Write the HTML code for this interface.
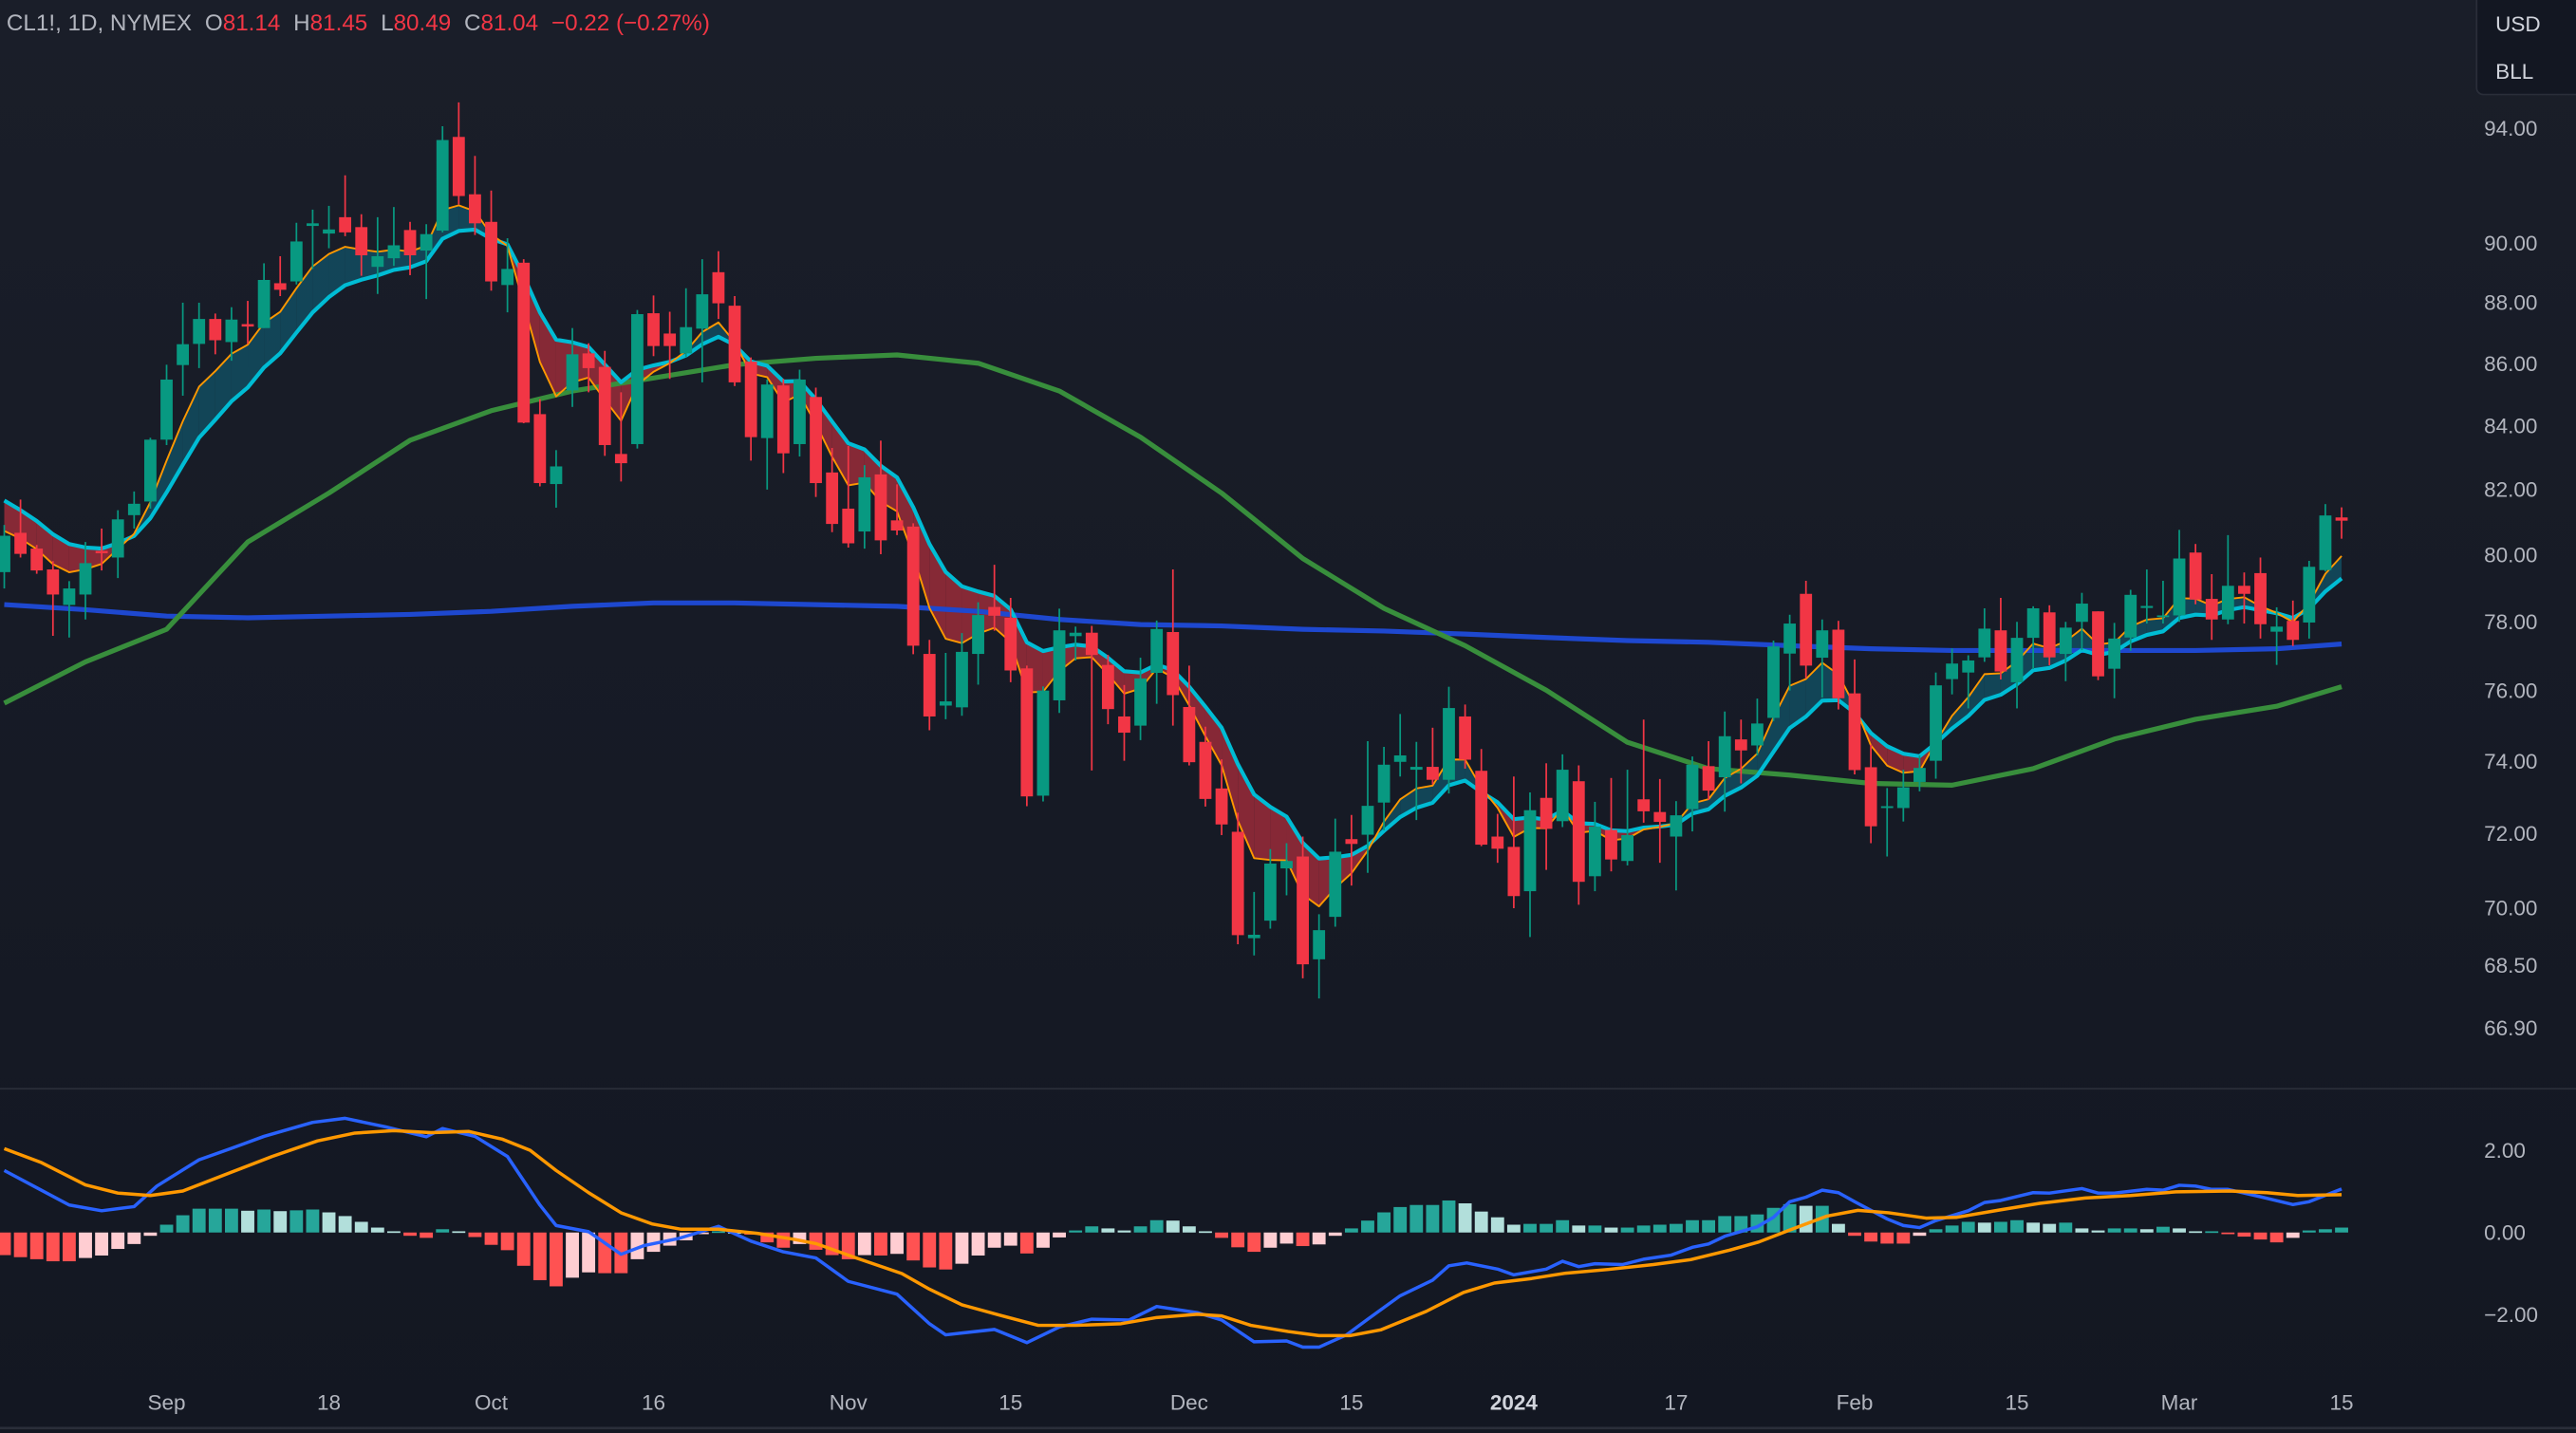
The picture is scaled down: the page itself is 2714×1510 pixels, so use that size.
<!DOCTYPE html>
<html><head><meta charset="utf-8"><title>CL1! 1D chart</title>
<style>
html,body{margin:0;padding:0;background:#161a25;overflow:hidden}
svg{display:block}
text{font-family:"Liberation Sans",sans-serif}
</style></head>
<body>
<svg id="chart" width="2714" height="1510" viewBox="0 0 1568 872" preserveAspectRatio="none" xmlns="http://www.w3.org/2000/svg">
<defs><linearGradient id="bg" x1="0" y1="0" x2="0" y2="1"><stop offset="0" stop-color="#1a1e29"/><stop offset="1" stop-color="#131722"/></linearGradient></defs>
<rect x="0" y="0" width="1568" height="872" fill="url(#bg)"/>
<line x1="0" y1="662.5" x2="1568" y2="662.5" stroke="#2a2e39" stroke-width="1"/>
<line x1="0" y1="869" x2="1568" y2="869" stroke="#2a2e39" stroke-width="1.5"/>
<g id="fills"></g>
<g id="mas"></g>
<g id="candles"></g>
<g id="macd"></g>
<g id="axes"></g>
<g>
<text x="4" y="18.5" font-size="14" fill="#b2b5be"><tspan>CL1!, 1D, NYMEX</tspan><tspan dx="8">O</tspan><tspan fill="#f23645">81.14</tspan><tspan dx="8">H</tspan><tspan fill="#f23645">81.45</tspan><tspan dx="8">L</tspan><tspan fill="#f23645">80.49</tspan><tspan dx="8">C</tspan><tspan fill="#f23645">81.04</tspan><tspan dx="8" fill="#f23645">−0.22 (−0.27%)</tspan></text>
</g>
<g>
<rect x="1507.5" y="-4" width="64" height="61.5" rx="4" fill="#131722" stroke="#2a2e39" stroke-width="1"/>
<text x="1519" y="19" font-size="13" fill="#d1d4dc">USD</text>
<text x="1519" y="48" font-size="13" fill="#d1d4dc">BLL</text>
</g>
</svg>
<script>
const opens=[79.48,80.67,80.19,79.56,78.50,78.81,80.12,79.92,81.21,81.63,83.56,85.95,86.64,87.46,86.70,87.29,87.16,88.65,88.71,90.59,90.33,90.89,90.55,89.20,89.49,90.45,89.75,90.43,93.69,91.68,90.73,88.59,89.34,84.37,82.17,85.13,86.33,85.89,83.11,83.42,87.65,86.98,86.33,87.14,89.02,87.90,86.06,83.61,85.29,83.42,84.92,82.53,81.41,80.71,82.47,81.05,80.86,77.06,75.57,75.52,77.06,78.44,78.12,76.64,73.04,75.72,77.58,77.68,76.74,75.26,75.00,76.51,77.70,75.53,74.54,73.24,72.05,69.21,69.67,71.06,71.38,68.66,69.77,71.85,71.97,72.85,73.98,73.76,73.84,73.48,75.26,73.73,71.92,71.64,70.45,72.98,72.34,73.44,70.85,72.10,71.26,72.94,72.59,71.92,72.67,73.86,73.55,74.61,74.44,75.22,77.07,78.83,76.95,77.77,75.92,73.83,72.70,72.70,73.42,74.01,76.33,76.52,76.96,77.75,76.24,77.53,78.28,77.06,78.00,78.31,76.63,77.54,78.41,78.14,78.19,80.07,78.68,78.07,79.07,79.45,77.71,78.03,77.98,79.54,81.14];
const highs=[80.91,81.69,80.30,79.81,79.21,80.39,80.80,81.36,81.94,83.62,85.96,88.00,88.00,87.64,87.85,88.06,89.32,89.56,90.70,91.15,91.28,92.34,90.99,90.89,91.24,90.73,90.65,94.07,94.92,93.02,91.81,90.17,89.46,84.85,83.23,87.16,86.66,86.41,85.07,87.76,88.24,87.70,88.48,89.46,89.73,88.22,86.20,85.48,85.50,85.80,85.22,83.30,83.36,82.76,83.53,82.16,80.96,77.47,77.09,77.67,78.58,79.70,78.71,76.72,76.12,78.39,77.86,77.88,77.03,76.16,76.95,78.04,79.56,76.72,74.97,74.05,72.57,70.43,71.58,71.74,71.92,69.84,72.41,72.51,74.56,74.40,75.33,74.54,74.94,76.11,75.60,74.34,72.54,73.57,73.13,73.94,74.19,73.88,72.87,73.53,73.76,75.17,73.50,72.89,74.13,74.56,75.40,75.17,75.77,77.45,78.21,79.22,78.07,78.03,76.90,74.46,73.25,73.76,74.16,76.52,77.22,77.02,78.40,78.71,78.00,78.46,78.49,78.00,78.86,78.31,77.97,78.95,79.56,79.22,80.76,80.33,79.42,80.60,79.47,79.92,78.43,78.63,79.82,81.55,81.45];
const lows=[78.99,79.92,79.43,77.59,77.54,78.07,79.53,79.30,80.80,81.41,83.39,84.96,85.85,86.30,86.09,86.64,87.16,88.22,88.61,89.13,89.83,90.24,88.90,88.29,89.23,88.92,88.12,90.37,91.33,90.28,88.40,87.68,84.08,82.10,81.44,84.60,85.07,83.05,82.25,83.28,86.24,85.50,86.21,85.39,87.46,85.27,82.90,82.00,82.51,83.03,81.77,80.69,80.22,80.19,80.02,80.60,77.05,74.87,75.18,75.28,76.17,77.74,76.24,72.75,72.88,75.36,76.87,73.74,75.04,74.01,74.59,75.62,75.00,73.88,72.74,71.96,69.05,68.76,69.46,70.34,68.17,67.65,69.51,70.60,70.94,72.09,73.57,72.37,73.35,73.10,73.79,71.66,71.21,70.00,69.24,71.02,72.18,70.09,70.45,70.98,71.14,72.30,71.21,70.47,72.06,72.92,72.60,73.38,74.16,75.13,76.00,76.35,75.80,75.46,73.63,71.74,71.38,72.33,73.16,73.51,75.89,75.49,76.83,76.32,75.49,76.62,76.73,76.27,77.17,76.30,75.78,77.15,77.95,77.95,78.00,78.52,77.47,77.93,77.95,77.51,76.74,77.29,77.51,79.50,80.49];
const closes=[80.58,80.03,79.53,78.81,78.99,79.75,80.05,81.08,81.56,83.56,85.48,86.63,87.46,86.76,87.44,87.21,88.76,88.43,90.06,90.68,90.47,90.37,89.59,89.56,89.93,89.59,90.31,93.58,91.62,90.68,88.71,89.13,84.10,82.20,82.72,86.30,85.85,83.39,82.82,87.62,86.57,86.57,87.19,88.28,87.98,85.39,83.64,85.32,83.13,85.48,82.20,80.94,80.35,82.38,80.44,80.74,77.30,75.26,75.69,77.12,78.20,78.18,76.58,73.02,76.00,77.75,77.68,77.03,75.47,74.80,76.35,77.79,75.87,73.97,72.95,72.25,69.29,69.30,71.19,71.26,68.53,69.42,71.51,71.72,72.76,73.90,74.16,73.84,73.48,75.50,74.04,71.70,71.59,70.32,72.64,72.13,73.76,70.70,72.19,71.30,71.96,72.61,72.32,72.50,73.90,73.18,74.70,74.30,75.06,77.28,77.95,76.72,77.75,75.78,73.75,72.20,72.75,73.27,73.81,76.15,76.78,76.87,77.80,76.55,77.53,78.40,76.96,77.83,78.54,76.41,77.51,78.80,78.47,78.19,79.89,78.66,78.07,79.07,78.83,77.93,77.86,77.47,79.64,81.20,81.04];
const fastSeed=[80.8];
const slowSeed=[81.9];
const ma50Idx=[0,5,10,15,20,25,30,35,40,45,50,55,60,65,70,75,80,85,90,95,100,105,110,115,120,125,130,135,140,144];
const ma50Vals=[75.64,76.83,77.78,80.39,81.89,83.54,84.48,85.11,85.53,85.96,86.17,86.28,86.01,85.11,83.64,81.89,79.89,78.40,77.30,76.01,74.53,73.79,73.61,73.38,73.33,73.79,74.62,75.18,75.55,76.11];
const ma200Vals=[78.51,78.36,78.17,78.12,78.17,78.22,78.31,78.46,78.56,78.56,78.51,78.46,78.31,78.07,77.92,77.88,77.78,77.73,77.64,77.54,77.45,77.40,77.30,77.21,77.16,77.16,77.16,77.16,77.21,77.35];
const histVals=[-0.55,-0.60,-0.65,-0.70,-0.70,-0.62,-0.56,-0.40,-0.28,-0.08,0.19,0.42,0.58,0.58,0.58,0.53,0.56,0.52,0.54,0.56,0.49,0.40,0.26,0.12,0.03,-0.08,-0.13,0.08,0.03,-0.11,-0.30,-0.43,-0.81,-1.16,-1.31,-1.10,-0.97,-0.99,-0.99,-0.65,-0.47,-0.32,-0.19,-0.03,0.03,0.01,-0.05,-0.24,-0.37,-0.28,-0.42,-0.55,-0.65,-0.55,-0.56,-0.52,-0.68,-0.85,-0.90,-0.76,-0.56,-0.37,-0.32,-0.51,-0.37,-0.12,0.05,0.15,0.10,0.05,0.15,0.30,0.29,0.15,0.03,-0.13,-0.36,-0.47,-0.37,-0.27,-0.33,-0.29,-0.08,0.10,0.29,0.49,0.62,0.67,0.67,0.78,0.71,0.51,0.37,0.19,0.21,0.21,0.30,0.17,0.17,0.12,0.12,0.17,0.19,0.21,0.30,0.30,0.40,0.40,0.44,0.60,0.69,0.65,0.65,0.21,-0.08,-0.22,-0.27,-0.27,-0.08,0.08,0.17,0.26,0.24,0.26,0.30,0.24,0.21,0.24,0.10,0.05,0.10,0.10,0.08,0.14,0.10,0.03,0.03,-0.03,-0.10,-0.17,-0.24,-0.13,0.05,0.08,0.12];
const macdIdx=[0,2,4,6,8,9.4,12,14,16,19,21,23.5,26,27,29,31,33,34,36,38,39.4,41.5,44,46,48,50,52,55,57,58,61,63,65,67,69.3,71,73.5,75,77,79,80,81,82.7,84,86,88,89,90.1,92,93,95,96,97,98,99.7,101,102.7,104,105,106,108,109,110,111,112,113,114,116,117,118,119,121,122,123,125,126,128,129,130,132,133,134,135,136,137,139,141,142,144];
const macdVals=[1.51,1.09,0.67,0.53,0.63,1.13,1.77,2.05,2.34,2.68,2.78,2.57,2.33,2.53,2.34,1.85,0.67,0.17,0.02,-0.53,-0.32,-0.15,0.15,-0.21,-0.47,-0.62,-1.19,-1.50,-2.22,-2.49,-2.36,-2.68,-2.30,-2.11,-2.13,-1.80,-1.95,-2.13,-2.66,-2.64,-2.79,-2.79,-2.49,-2.11,-1.54,-1.16,-0.81,-0.74,-0.89,-1.03,-0.89,-0.70,-0.83,-0.76,-0.78,-0.65,-0.55,-0.36,-0.28,-0.09,0.14,0.37,0.75,0.86,1.03,0.97,0.75,0.33,0.17,0.12,0.29,0.53,0.73,0.78,0.97,0.96,1.07,0.96,0.96,1.05,1.03,1.15,1.13,1.05,1.05,0.87,0.68,0.75,1.06];
const sigIdx=[0,2.3,5,7,9,11,14,16.5,19.3,21.6,24,26.3,28.6,30.7,32.4,34,36,38,39.9,41.7,44,46.4,48.7,50,52.5,55.3,57,59,61.4,63.7,66,68.8,71,73.5,75,76.8,79.1,81,82.9,84.8,87.6,89.9,91.8,94.1,96.2,98.8,101.6,103.9,106.3,108.1,110,112.3,114.2,116.1,118.4,120.3,123.1,125.4,128.2,131,133.8,137.1,139.4,141.3,144];
const sigVals=[2.04,1.70,1.16,0.96,0.90,1.01,1.47,1.85,2.23,2.42,2.48,2.43,2.46,2.27,2.00,1.51,0.97,0.48,0.21,0.08,0.08,-0.02,-0.17,-0.27,-0.62,-1.00,-1.38,-1.76,-2.02,-2.26,-2.26,-2.22,-2.07,-1.99,-2.03,-2.26,-2.41,-2.51,-2.51,-2.37,-1.92,-1.46,-1.23,-1.12,-0.99,-0.90,-0.78,-0.66,-0.43,-0.23,0.06,0.40,0.54,0.48,0.35,0.37,0.56,0.71,0.84,0.90,0.99,1.01,0.97,0.90,0.92];
const priceTicks=[94,90,88,86,84,82,80,78,76,74,72,70,68.5,66.9];
const macdTicks=[2,0,-2];
const dateLabels=["Sep","18","Oct","16","Nov","15","Dec","15","2024","17","Feb","15","Mar","15"];
const dateIdx=[10,20,30,40,52,62,73,83,93,103,114,124,134,144];

const NS="http://www.w3.org/2000/svg";
function xOf(i){return 2.6+i*9.88;}
function yOf(p){return 78+1610*Math.log(94/p);}
function mY(v){return 750-25*v;}
function el(tag,attrs,parent){const e=document.createElementNS(NS,tag);for(const k in attrs)e.setAttribute(k,attrs[k]);parent.appendChild(e);return e;}
function pathFrom(xs,ys){return xs.map((x,i)=>(i?'L':'M')+x.toFixed(2)+' '+ys[i].toFixed(2)).join(' ');}

const fast=[],slow=[];
let f=fastSeed[0],s=slowSeed[0];
for(let i=0;i<closes.length;i++){f=f+(closes[i]-f)*2/6;s=s+(closes[i]-s)*2/11;fast.push(f);slow.push(s);}

const fills=document.getElementById('fills');
for(let i=0;i<closes.length-1;i++){
  const up=fast[i]+fast[i+1]>=slow[i]+slow[i+1];
  const p=el('polygon',{points:[xOf(i)+','+yOf(fast[i]),xOf(i+1)+','+yOf(fast[i+1]),xOf(i+1)+','+yOf(slow[i+1]),xOf(i)+','+yOf(slow[i])].join(' '),fill:up?'#125064':'#9a2b3a','fill-opacity':up?'0.8':'0.85'},fills);
  
  
}
const mas=document.getElementById('mas');
const g200=el('path',{d:pathFrom(ma50Idx.map(xOf),ma200Vals.map(yOf)),fill:'none',stroke:'#1e48cf','stroke-width':'3','stroke-linejoin':'round'},mas);


const g50=el('path',{d:pathFrom(ma50Idx.map(xOf),ma50Vals.map(yOf)),fill:'none',stroke:'#388e3c','stroke-width':'3','stroke-linejoin':'round'},mas);


const idxs=closes.map((c,i)=>i);
const sl=el('path',{d:pathFrom(idxs.map(xOf),slow.map(yOf)),fill:'none',stroke:'#00bcd4','stroke-width':'2.4','stroke-linejoin':'round'},mas);


const fl=el('path',{d:pathFrom(idxs.map(xOf),fast.map(yOf)),fill:'none',stroke:'#ff9800','stroke-width':'1.1','stroke-linejoin':'round'},mas);



const cg=document.getElementById('candles');
for(let i=0;i<closes.length;i++){
  const up=closes[i]>=opens[i];const col=up?'#089981':'#f23645';const x=xOf(i);
  const w=el('line',{x1:x,x2:x,y1:yOf(highs[i]),y2:yOf(lows[i]),stroke:col,'stroke-width':'1'},cg);
  
  
  const t=Math.min(yOf(opens[i]),yOf(closes[i]));const h=Math.max(1,Math.abs(yOf(opens[i])-yOf(closes[i])));
  const b=el('rect',{x:x-3.7,y:t,width:7.4,height:h,fill:col},cg);
  
  
}

const mg=document.getElementById('macd');
for(let i=0;i<histVals.length;i++){
  const v=histVals[i],pv=i?histVals[i-1]:v;let col;
  if(v>=0)col=v>=pv?'#26a69a':'#b2dfdb';else col=v<=pv?'#ff5252':'#ffcdd2';
  const y0=mY(0),y1=mY(v);
  const r=el('rect',{x:xOf(i)-4,y:Math.min(y0,y1),width:8,height:Math.max(1,Math.abs(y1-y0)),fill:col},mg);
  
  
}
const ml=el('path',{d:pathFrom(macdIdx.map(xOf),macdVals.map(mY)),fill:'none',stroke:'#2962ff','stroke-width':'2','stroke-linejoin':'round'},mg);


const sg=el('path',{d:pathFrom(sigIdx.map(xOf),sigVals.map(mY)),fill:'none',stroke:'#ff9800','stroke-width':'2','stroke-linejoin':'round'},mg);



const ax=document.getElementById('axes');
priceTicks.forEach(p=>{
  const t=el('text',{x:1512,y:yOf(p)+4.5,'font-size':'13',fill:'#b2b5be'},ax);
  t.textContent=p.toFixed(2);
  
  
});
macdTicks.forEach(v=>{
  const t=el('text',{x:1512,y:mY(v)+4.5,'font-size':'13',fill:'#b2b5be'},ax);
  t.textContent=(v<0?'−':'')+Math.abs(v).toFixed(2);
  
  
});
dateLabels.forEach((d,k)=>{
  const bold=d==='2024';
  const t=el('text',{x:xOf(dateIdx[k]),y:858,'font-size':'13','text-anchor':'middle',fill:bold?'#d1d4dc':'#b2b5be','font-weight':bold?'bold':'normal'},ax);
  t.textContent=d;
  
  
});
</script>
</body></html>
